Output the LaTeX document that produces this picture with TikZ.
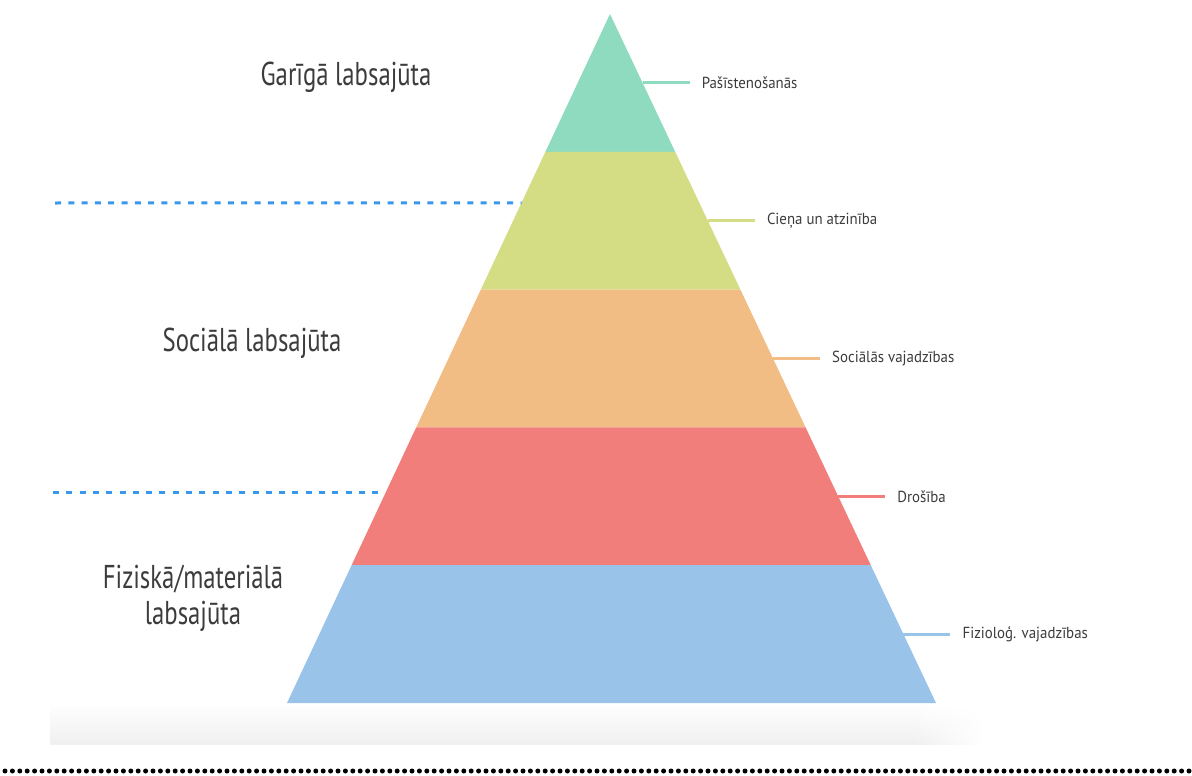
\documentclass[tikz,border=0pt]{standalone}
\usepackage{fontspec}
\setmainfont{PT Sans}
\newfontfamily\narrowfont[FakeStretch=0.75]{PT Sans}
\newfontfamily\tagfont[FakeStretch=0.93]{PT Sans}
\usepackage{tikz}
\usetikzlibrary{calc, fadings}
\definecolor{mint}{RGB}{143,219,191}
\definecolor{lime}{RGB}{212,220,132}
\definecolor{peach}{RGB}{242,188,133}
\definecolor{coral}{RGB}{242,126,123}
\definecolor{sky}{RGB}{154,195,234}
\definecolor{dashblue}{RGB}{58,152,236}
\definecolor{ink}{RGB}{60,60,60}

\begin{document}
\begin{tikzpicture}[x=1pt, y=-1pt,
  title/.style={text=ink, align=center, font=\narrowfont\fontsize{33}{36}\selectfont},
  tag/.style={anchor=west, inner xsep=12pt, text=ink, font=\tagfont\fontsize{16}{19}\selectfont},
  lead/.style={line width=3pt},
  divider/.style={line width=3pt, dashblue, dash pattern=on 6pt off 7.3pt}]
\useasboundingbox (0,0) rectangle (1192,776);

% soft shadow under the base
\shade[top color=white, bottom color=black!6] (50,703) rectangle (915,744);
\shade[top color=white, bottom color=black!6, path fading=east] (915,703) rectangle (985,744);

\coordinate (apex) at (610,14);
\coordinate (bl) at (287,703);
\coordinate (br) at (936,703);

% the five layers
\foreach \i/\c in {0/mint, 1/lime, 2/peach, 3/coral, 4/sky} {
  \fill[\c] ($(apex)!{\i/5}!(bl)$) -- ($(apex)!{(\i+1)/5}!(bl)$)
    -- ($(apex)!{(\i+1)/5}!(br)$) -- ($(apex)!{\i/5}!(br)$) -- cycle;
}

% labels on the right
\foreach \i/\c/\t in {0/mint/Pašīstenošanās, 1/lime/Cieņa un atzinība,
    2/peach/Sociālās vajadzības, 3/coral/Drošība, 4/sky/Fizioloģ. vajadzības} {
  \coordinate (e\i) at ($(apex)!{(\i+0.5)/5}!(br)$);
  \node[tag] (t\i) at ($(e\i)+(47,0)$) {\t};
  \draw[lead, \c] (e\i) -- (t\i.west);
}

% groups on the left
\node[title] (spirit) at (346,77) {Garīgā labsajūta};
\node[title] (social) at (252,343) {Sociālā labsajūta};
\node[title] (body) at (193,598) {Fiziskā/materiālā\\labsajūta};

\coordinate (a1) at (55,203);
\coordinate (b1) at ($(apex)!0.274!(bl)$);
\coordinate (a2) at (53,492);
\coordinate (b2) at (381,492);
\draw[divider] (a1) -- (b1);
\draw[divider] (a2) -- (b2);

\coordinate (f1) at (5,771);
\coordinate (f2) at (1192,771);
\draw[line width=5pt, line cap=round, dash pattern=on 0pt off 7.4pt] (f1) -- (f2);

\end{tikzpicture}
\end{document}
